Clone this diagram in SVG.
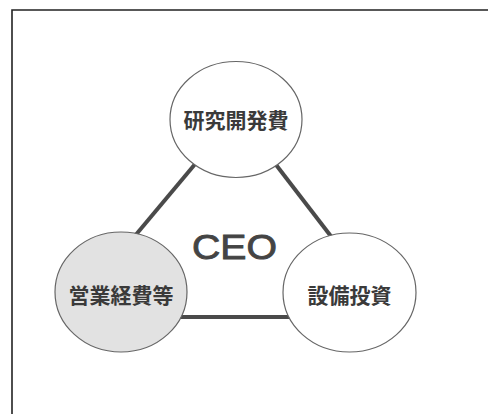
<svg xmlns="http://www.w3.org/2000/svg" width="488" height="414" viewBox="0 0 488 414">
<style>
.node{stroke:#666;stroke-width:1.2}
.lbl{font-family:"Liberation Sans","Noto Sans CJK JP",sans-serif;font-size:21px;font-weight:bold;fill:#3a3a3a;text-anchor:middle}
.edge{stroke:#4a4a4a;stroke-width:4;fill:none}
.ceo{font-family:"Liberation Sans",Arial,sans-serif;font-size:36px;fill:#444;stroke:#444;stroke-width:0.9;text-anchor:middle}
</style>
<rect width="488" height="414" fill="#ffffff"/>
<path d="M12 414 V10 H488" fill="none" stroke="#222" stroke-width="1.6"/>
<g id="connectors">
<line class="edge" x1="237" y1="114" x2="67" y2="317"/>
<line class="edge" x1="237" y1="114" x2="393" y2="317"/>
<line class="edge" x1="67" y1="317" x2="393" y2="317"/>
</g>
<g id="ceo">
<text class="ceo" transform="translate(234.5 259) scale(1.09 1)" x="0" y="0">CEO</text>
</g>
<g id="rd">
<ellipse class="node" cx="236" cy="119.5" rx="66" ry="58" fill="#ffffff"/>
<text class="lbl" x="236" y="128">研究開発費</text>
</g>
<g id="sales">
<ellipse class="node" cx="121" cy="292" rx="66" ry="60" fill="#e2e2e2"/>
<text class="lbl" x="121" y="303">営業経費等</text>
</g>
<g id="capex">
<ellipse class="node" cx="349.5" cy="292.5" rx="66.5" ry="59.5" fill="#ffffff"/>
<text class="lbl" x="349.5" y="303">設備投資</text>
</g>
</svg>
